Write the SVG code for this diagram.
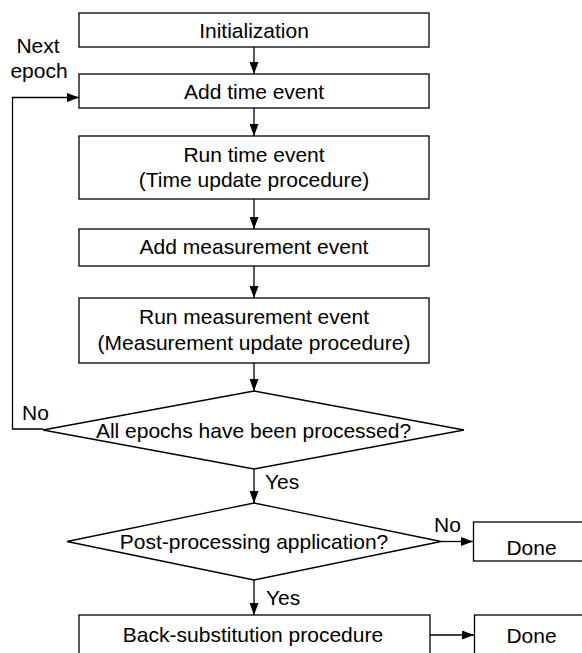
<svg xmlns="http://www.w3.org/2000/svg" width="582" height="653" viewBox="0 0 582 653">
  <style>
    .box { fill: #ffffff; stroke: #000000; stroke-width: 1.3; }
    .edge { fill: none; stroke: #000000; stroke-width: 1.3; }
    .t { font-family: "Liberation Sans", Arial, sans-serif; font-size: 21px; fill: #000000; }
    .c { text-anchor: middle; }
  </style>
  <defs>
    <marker id="arrow" markerUnits="userSpaceOnUse" markerWidth="12" markerHeight="9" refX="12" refY="4.5" orient="auto">
      <path d="M0,0 L12,4.5 L0,9 z" fill="#000000"/>
    </marker>
  </defs>
  <rect width="582" height="653" fill="#ffffff"/>

  <!-- connectors -->
  <g id="connectors">
    <line class="edge" x1="254" y1="47" x2="254" y2="74" marker-end="url(#arrow)"/>
    <line class="edge" x1="254" y1="108" x2="254" y2="136" marker-end="url(#arrow)"/>
    <line class="edge" x1="254" y1="199" x2="254" y2="229" marker-end="url(#arrow)"/>
    <line class="edge" x1="254" y1="266" x2="254" y2="298" marker-end="url(#arrow)"/>
    <line class="edge" x1="254" y1="363" x2="254" y2="391" marker-end="url(#arrow)"/>
    <line class="edge" x1="254" y1="469" x2="254" y2="503" marker-end="url(#arrow)"/>
    <line class="edge" x1="254" y1="580" x2="254" y2="615" marker-end="url(#arrow)"/>
    <polyline class="edge" points="43,429 12.5,429 12.5,97.5 79,97.5" marker-end="url(#arrow)"/>
    <line class="edge" x1="441" y1="541.5" x2="473" y2="541.5" marker-end="url(#arrow)"/>
    <line class="edge" x1="430" y1="635" x2="474" y2="635" marker-end="url(#arrow)"/>
    <text class="t" x="38" y="53" text-anchor="middle">Next</text>
    <text class="t" x="39" y="77.5" text-anchor="middle">epoch</text>
    <text class="t" x="22" y="420">No</text>
    <text class="t" x="265" y="488.5">Yes</text>
    <text class="t" x="434" y="531.5">No</text>
    <text class="t" x="266" y="605">Yes</text>
  </g>

  <g id="init">
    <rect class="box" x="79" y="13" width="350" height="34"/>
    <text class="t c" x="254" y="37.5">Initialization</text>
  </g>

  <g id="add-time">
    <rect class="box" x="79" y="74" width="350" height="34"/>
    <text class="t c" x="254" y="98.5">Add time event</text>
  </g>

  <g id="run-time">
    <rect class="box" x="79" y="136" width="350" height="63"/>
    <text class="t c" x="254" y="161.5">Run time event</text>
    <text class="t c" x="254" y="187">(Time update procedure)</text>
  </g>

  <g id="add-meas">
    <rect class="box" x="79" y="229" width="350" height="37"/>
    <text class="t c" x="254" y="254">Add measurement event</text>
  </g>

  <g id="run-meas">
    <rect class="box" x="79" y="298" width="350" height="65"/>
    <text class="t c" x="254" y="324">Run measurement event</text>
    <text class="t c" x="254" y="350">(Measurement update procedure)</text>
  </g>

  <g id="all-epochs">
    <polygon class="box" points="254,391 464,430 254,469 43,430"/>
    <text class="t c" x="253.5" y="437.5">All epochs have been processed?</text>
  </g>

  <g id="post-proc">
    <polygon class="box" points="254,503 441,541.5 254,580 67,541.5"/>
    <text class="t c" x="254" y="548.5">Post-processing application?</text>
  </g>

  <g id="done-1">
    <rect class="box" x="473.5" y="522" width="120" height="39"/>
    <text class="t c" x="531.5" y="554.5">Done</text>
  </g>

  <g id="back-sub">
    <rect class="box" x="79" y="615" width="351" height="45"/>
    <text class="t c" x="253" y="642">Back-substitution procedure</text>
  </g>

  <g id="done-2">
    <rect class="box" x="474.5" y="615" width="120" height="45"/>
    <text class="t c" x="531.5" y="642.5">Done</text>
  </g>
</svg>
